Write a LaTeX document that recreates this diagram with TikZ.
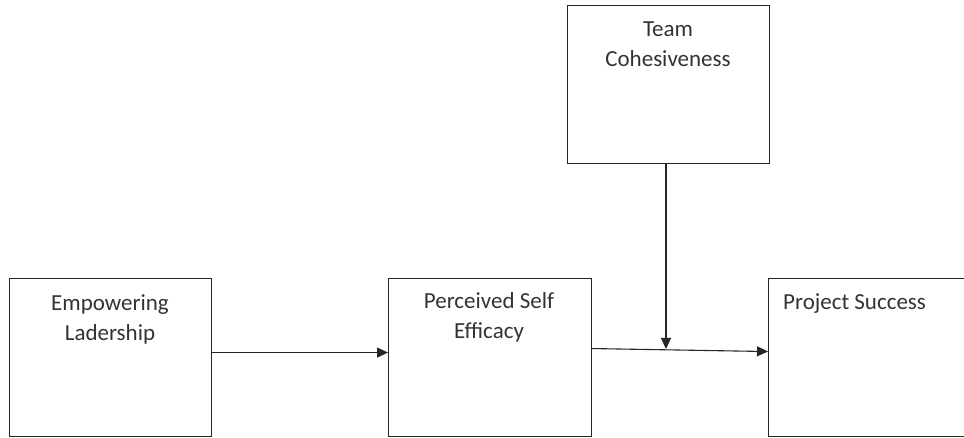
\documentclass[tikz,border=0pt]{standalone}
\usepackage{fontspec}
\setmainfont{Carlito}
\usetikzlibrary{arrows.meta}
\begin{document}
\begin{tikzpicture}[x=1pt,y=-1pt,
  box/.style={draw=black!85, line width=1.1pt, rectangle, inner sep=0pt, anchor=north west, minimum width=#1, minimum height=158pt},
  lbl/.style={font=\fontsize{23}{30}\selectfont, align=center, anchor=base, text=black!80, inner sep=0pt},
  arr/.style={draw=black!85, line width=1.1pt, -{Triangle[length=11pt,width=10pt]}}]
\useasboundingbox (0,0) rectangle (964,438);
\clip (0,0) rectangle (964,438);
% boxes
\node[box=202pt] (tc) at (567,5) {};
\node[box=202pt] (el) at (9,278) {};
\node[box=203pt] (pse) at (388,278) {};
\node[box=210pt] (ps) at (768,278) {};
% labels (base = baseline of last line)
\node[lbl] (tct) at (668,67) {Team\\Cohesiveness};
\node[lbl] (elt) at (110,341) {Empowering\\Ladership};
\node[lbl] (pset) at (489,339) {Perceived Self\\Efficacy};
\node[lbl, anchor=base west] (pst) at (783,310) {Project Success};
% connectors
\coordinate (j) at (666,349);
\draw[arr] ([yshift=5pt]el.east) -- ([yshift=5pt]pse.west);
\draw[arr] ([yshift=9pt]pse.east) -- ([yshift=6pt]ps.west);
\draw[arr] (tc.south -| j) -- (j);
\end{tikzpicture}
\end{document}
